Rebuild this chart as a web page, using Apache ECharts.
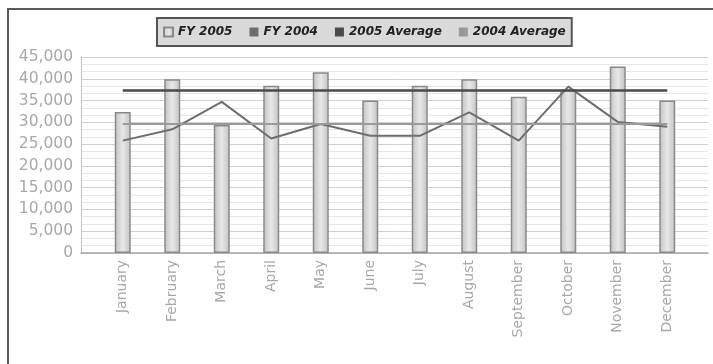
<!DOCTYPE html>
<html>
<head>
<meta charset="utf-8">
<script src="https://cdn.jsdelivr.net/npm/echarts@6/dist/echarts.min.js"></script>
<style>html,body{margin:0;padding:0;background:#fff}#c{width:713px;height:364px}</style>
</head>
<body>
<div id="c"></div>
<script>
var months = ['January','February','March','April','May','June','July','August','September','October','November','December'];
var fy2005 = [32400, 39900, 29400, 38400, 41500, 35000, 38400, 39900, 35900, 37500, 42800, 35000];
var fy2004 = [25800, 28400, 34700, 26300, 29600, 26900, 26900, 32300, 25800, 38200, 30100, 29000];
var avg2005 = [37300, 37300, 37300, 37300, 37300, 37300, 37300, 37300, 37300, 37300, 37300, 37300];
var avg2004 = [29600, 29600, 29600, 29600, 29600, 29600, 29600, 29600, 29600, 29600, 29600, 29600];
var yTicks = ['0','5,000','10,000','15,000','20,000','25,000','30,000','35,000','40,000','45,000'];

var chart = echarts.init(document.getElementById('c'), null, {renderer:'canvas'});
var font = 'DejaVu Sans, Verdana, sans-serif';
chart.setOption({
  animation: false,
  backgroundColor: '#fff',
  graphic: [
    {type: 'line', shape: {x1: 8, y1: 8, x2: 8, y2: 364}, style: {stroke: '#5a5a5a', lineWidth: 2}},
    {type: 'line', shape: {x1: 7, y1: 9, x2: 713, y2: 9}, style: {stroke: '#5a5a5a', lineWidth: 2}}
  ],
  legend: {
    left: 157, top: 18,
    itemWidth: 9, itemHeight: 9, itemGap: 17,
    padding: [8, 6],
    backgroundColor: '#dadada',
    borderColor: '#555', borderWidth: 2,
    icon: 'rect',
    textStyle: {fontFamily: font, fontSize: 12, fontWeight: 'bold', fontStyle: 'italic', color: '#222'},
    data: ['FY 2005', 'FY 2004', '2005 Average', '2004 Average']
  },
  grid: [
    {left: 81, right: 5, top: 57, bottom: 111},
    {left: 98, right: 21, top: 57, bottom: 111}
  ],
  xAxis: [
    {gridIndex: 0, type: 'category', data: months, show: true,
     axisLine: {show: true, lineStyle: {color: '#a8a8a8', width: 1.5}},
     axisTick: {show: false}, axisLabel: {show: false}, splitLine: {show: false}},
    {gridIndex: 1, type: 'category', data: months,
     axisLine: {show: false}, axisTick: {show: false},
     axisLabel: {rotate: 90, color: '#a8a8a8', fontFamily: font, fontSize: 14, margin: 7, interval: 0}}
  ],
  yAxis: [
    {gridIndex: 0, type: 'value', min: 0, max: 45000, interval: 5000,
     axisLine: {show: true, lineStyle: {color: '#c0c0c0', width: 1}},
     axisTick: {show: false},
     axisLabel: {color: '#a8a8a8', fontFamily: font, fontSize: 15.5, margin: 8,
       formatter: function (v) { return yTicks[Math.round(v / 5000)]; }},
     splitLine: {show: true, lineStyle: {color: '#cfcfcf', width: 1}},
     minorTick: {show: false, splitNumber: 3},
     minorSplitLine: {show: true, lineStyle: {color: '#e6e6e6', width: 1}}},
    {gridIndex: 1, type: 'value', min: 0, max: 45000, interval: 5000, show: false, splitLine: {show: false}}
  ],
  series: [
    {name: 'FY 2005', type: 'bar', xAxisIndex: 1, yAxisIndex: 1, data: fy2005, barWidth: 16,
     itemStyle: {
       color: {type: 'linear', x: 0, y: 0, x2: 1, y2: 0, colorStops: [
         {offset: 0, color: '#c2c2c2'}, {offset: 0.5, color: '#e8e8e8'}, {offset: 1, color: '#c2c2c2'}]},
       borderColor: '#8a8a8a', borderWidth: 1.5}},
    {name: 'FY 2004', type: 'line', xAxisIndex: 1, yAxisIndex: 1, data: fy2004,
     showSymbol: false, symbol: 'none', lineStyle: {color: '#6e6e6e', width: 2}, itemStyle: {color: '#6e6e6e'}},
    {name: '2005 Average', type: 'line', xAxisIndex: 1, yAxisIndex: 1, data: avg2005,
     showSymbol: false, symbol: 'none', lineStyle: {color: '#4a4a4a', width: 2.5}, itemStyle: {color: '#4a4a4a'}},
    {name: '2004 Average', type: 'line', xAxisIndex: 1, yAxisIndex: 1, data: avg2004,
     showSymbol: false, symbol: 'none', lineStyle: {color: '#9a9a9a', width: 2}, itemStyle: {color: '#9a9a9a'}}
  ]
});
</script>
</body>
</html>
